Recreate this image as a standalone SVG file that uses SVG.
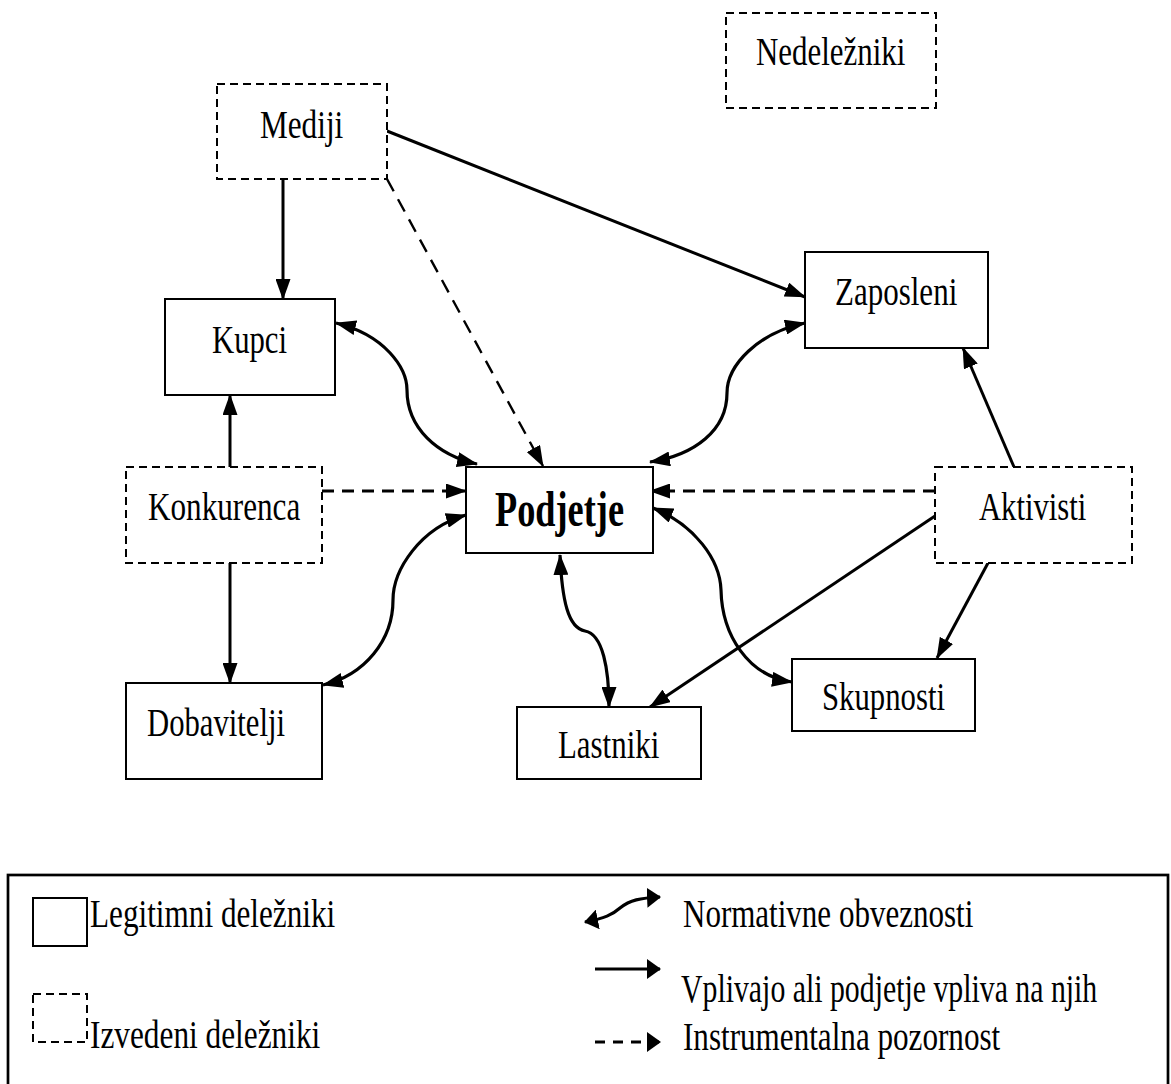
<svg xmlns="http://www.w3.org/2000/svg" width="1171" height="1084" viewBox="0 0 1171 1084">
<style>
.box{fill:#fff;stroke:#000;stroke-width:2}
.dbox{fill:#fff;stroke:#000;stroke-width:2;stroke-dasharray:8 5}
.lbl{font-family:"Liberation Serif","Times New Roman",serif;font-size:41px;fill:#000}
.bold{font-weight:bold;font-size:50px}
.sol{fill:none;stroke:#000;stroke-width:3}
.dsh{fill:none;stroke:#000;stroke-width:3;stroke-dasharray:12 8}
.dsh2{fill:none;stroke:#000;stroke-width:2.4;stroke-dasharray:14 9}
.crv{fill:none;stroke:#000;stroke-width:3.2}
</style>
<defs>
<marker id="ah" viewBox="0 0 21 15" refX="20" refY="7.5" markerWidth="21" markerHeight="15" markerUnits="userSpaceOnUse" orient="auto-start-reverse"><path d="M0,0 L21,7.5 L0,15 z" fill="#000"/></marker>
<marker id="ahL" viewBox="0 0 14 20" refX="13" refY="10" markerWidth="14" markerHeight="20" markerUnits="userSpaceOnUse" orient="auto-start-reverse"><path d="M0,0 L14,10 L0,20 z" fill="#000"/></marker>
</defs>
<rect width="1171" height="1084" fill="#fff"/>

<g id="connectors">
<line class="sol" x1="283" y1="179" x2="283" y2="299" marker-end="url(#ah)"/>
<line class="sol" x1="387" y1="131" x2="805" y2="297" marker-end="url(#ah)"/>
<line class="sol" x1="230" y1="467" x2="230" y2="395" marker-end="url(#ah)"/>
<line class="sol" x1="230" y1="563" x2="230" y2="683" marker-end="url(#ah)"/>
<line class="sol" x1="1014" y1="467" x2="963" y2="348" marker-end="url(#ah)"/>
<line class="sol" x1="935" y1="516" x2="650" y2="707" marker-end="url(#ah)"/>
<line class="sol" x1="988" y1="563" x2="937" y2="658" marker-end="url(#ah)"/>
<line class="dsh2" x1="387" y1="179" x2="543" y2="466" marker-end="url(#ah)"/>
<line class="dsh" x1="322" y1="491" x2="466" y2="491" marker-end="url(#ah)"/>
<line class="dsh" x1="935" y1="491" x2="650" y2="491" marker-end="url(#ah)"/>
<path class="crv" d="M336,323 C385,335 407,368 407,390 C407,428 437,455 477,464" marker-start="url(#ah)" marker-end="url(#ah)"/>
<path class="crv" d="M805,323 C758,333 727,365 727,393 C727,430 695,455 650,462" marker-start="url(#ah)" marker-end="url(#ah)"/>
<path class="crv" d="M466,515 C420,528 393,570 393,600 C393,640 365,675 323,685" marker-start="url(#ah)" marker-end="url(#ah)"/>
<path class="crv" d="M653,508 C695,525 720,560 721,590 C722,635 748,676 792,682" marker-start="url(#ah)" marker-end="url(#ah)"/>
<path class="crv" d="M560,555 C562,600 568,628 585,631 C603,634 609,670 609,707" marker-start="url(#ah)" marker-end="url(#ah)"/>
</g>

<g id="nedelezniki"><rect class="dbox" x="726" y="13" width="210" height="95"/><text class="lbl" transform="translate(756,65) scale(0.75,1)" textLength="199" lengthAdjust="spacingAndGlyphs">Nedeležniki</text></g>
<g id="mediji"><rect class="dbox" x="217" y="84" width="170" height="95"/><text class="lbl" transform="translate(260,138) scale(0.75,1)" textLength="111" lengthAdjust="spacingAndGlyphs">Mediji</text></g>
<g id="kupci"><rect class="box" x="165" y="299" width="170" height="96"/><text class="lbl" transform="translate(212,353) scale(0.75,1)" textLength="100" lengthAdjust="spacingAndGlyphs">Kupci</text></g>
<g id="zaposleni"><rect class="box" x="805" y="252" width="183" height="96"/><text class="lbl" transform="translate(835,305) scale(0.75,1)" textLength="163" lengthAdjust="spacingAndGlyphs">Zaposleni</text></g>
<g id="konkurenca"><rect class="dbox" x="126" y="467" width="196" height="96"/><text class="lbl" transform="translate(148,520) scale(0.75,1)" textLength="203" lengthAdjust="spacingAndGlyphs">Konkurenca</text></g>
<g id="podjetje"><rect class="box" x="466" y="467" width="187" height="86"/><text class="lbl bold" transform="translate(495,526) scale(0.75,1)" textLength="172" lengthAdjust="spacingAndGlyphs">Podjetje</text></g>
<g id="aktivisti"><rect class="dbox" x="935" y="467" width="197" height="96"/><text class="lbl" transform="translate(979,520) scale(0.75,1)" textLength="143" lengthAdjust="spacingAndGlyphs">Aktivisti</text></g>
<g id="dobavitelji"><rect class="box" x="126" y="683" width="196" height="96"/><text class="lbl" transform="translate(147,736) scale(0.75,1)" textLength="184" lengthAdjust="spacingAndGlyphs">Dobavitelji</text></g>
<g id="lastniki"><rect class="box" x="517" y="707" width="184" height="72"/><text class="lbl" transform="translate(558,758) scale(0.75,1)" textLength="135" lengthAdjust="spacingAndGlyphs">Lastniki</text></g>
<g id="skupnosti"><rect class="box" x="792" y="659" width="183" height="72"/><text class="lbl" transform="translate(822,710) scale(0.75,1)" textLength="164" lengthAdjust="spacingAndGlyphs">Skupnosti</text></g>

<g id="legend">
<rect x="8" y="875" width="1160" height="215" fill="none" stroke="#000" stroke-width="2.7"/>
<rect class="box" x="33" y="898" width="54" height="48"/>
<text class="lbl" transform="translate(90,927) scale(0.75,1)" textLength="327" lengthAdjust="spacingAndGlyphs">Legitimni deležniki</text>
<rect class="dbox" x="33" y="994" width="54" height="48" stroke-width="1.8"/>
<text class="lbl" transform="translate(90,1048) scale(0.75,1)" textLength="307" lengthAdjust="spacingAndGlyphs">Izvedeni deležniki</text>
<path class="crv" d="M585,922 C605,918 612,915 620,908 C630,900 640,898 660,897" marker-start="url(#ahL)" marker-end="url(#ahL)"/>
<text class="lbl" transform="translate(683,927) scale(0.75,1)" textLength="387" lengthAdjust="spacingAndGlyphs">Normativne obveznosti</text>
<line class="sol" x1="595" y1="969" x2="660" y2="969" marker-end="url(#ahL)"/>
<text class="lbl" transform="translate(681,1002) scale(0.75,1)" textLength="555" lengthAdjust="spacingAndGlyphs">Vplivajo ali podjetje vpliva na njih</text>
<line x1="595" y1="1042" x2="660" y2="1042" stroke="#000" stroke-width="3" stroke-dasharray="10 8" marker-end="url(#ahL)"/>
<text class="lbl" transform="translate(683,1050) scale(0.75,1)" textLength="423" lengthAdjust="spacingAndGlyphs">Instrumentalna pozornost</text>
</g>
</svg>
